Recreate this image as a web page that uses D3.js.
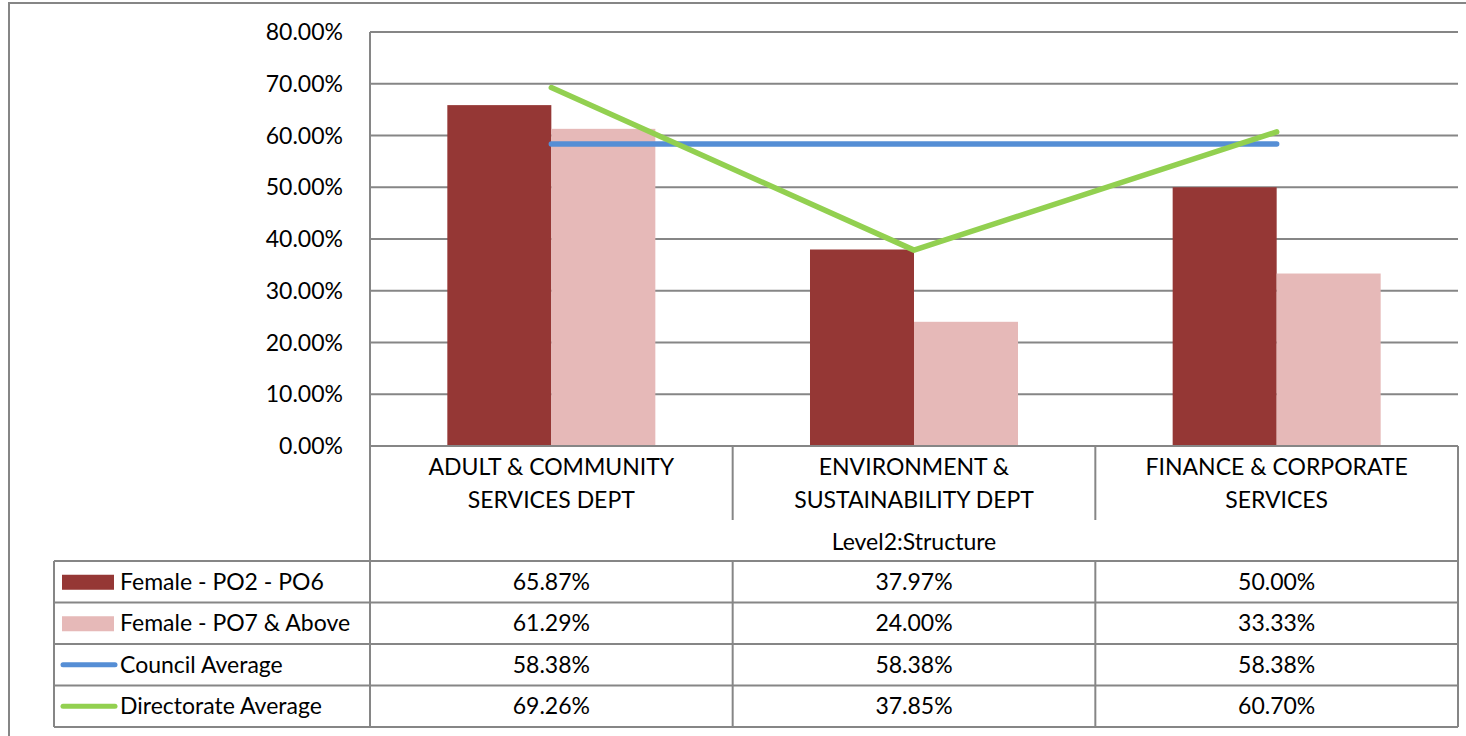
<!DOCTYPE html>
<html lang="en">
<head>
<meta charset="UTF-8">
<title>Female employees by directorate</title>
<style>
  body { margin: 0; background: #fff; }
  text { font-family: Lato, 'Open Sans', sans-serif; fill: #000; }
</style>
</head>
<body>
<svg id="svg" width="1466" height="736"></svg>

<script src="https://d3js.org/d3.v7.min.js"></script>
<script>
// data
const categories = ['ADULT & COMMUNITY SERVICES DEPT', 'ENVIRONMENT & SUSTAINABILITY DEPT', 'FINANCE & CORPORATE SERVICES']
const barSeries = ['Female - PO2 - PO6', 'Female - PO7 & Above']
const lineSeries = ['Council Average', 'Directorate Average']
const po2po6 = [0.6587, 0.3797, 0.5000]
const po7above = [0.6129, 0.2400, 0.3333]
const councilAvg = [0.5838, 0.5838, 0.5838]
const directorateAvg = [0.6926, 0.3785, 0.6070]
const yTicks = [0, 0.1, 0.2, 0.3, 0.4, 0.5, 0.6, 0.7, 0.8]
const axisTitle = 'Level2:Structure'

const colors = {
    'Female - PO2 - PO6': '#953735',
    'Female - PO7 & Above': '#e6b9b8',
    'Council Average': '#558ed5',
    'Directorate Average': '#92d050'
}
const grid = '#868686'
const fs = 23

const svg = d3.select('#svg')

// outer frame (runs off the right edge)
svg.append('rect')
    .attr('x', 9).attr('y', 3)
    .attr('width', 1480).attr('height', 760)
    .attr('fill', 'none').attr('stroke', grid).attr('stroke-width', 2)

const plotLeft = 370, plotRight = 1458, plotTop = 32, plotBase = 446

const yScale = d3.scaleLinear().domain([0, 0.8]).range([plotBase, plotTop])
const xScale = d3.scaleBand().domain(categories).range([plotLeft, plotRight])
const bw = xScale.bandwidth()
const subScale = d3.scaleBand().domain(barSeries).range([0, bw]).paddingOuter(0.7435)

// gridlines
svg.append('g').selectAll('line')
    .data(yTicks)
    .enter().append('line')
    .attr('x1', plotLeft).attr('x2', plotRight)
    .attr('y1', d => yScale(d)).attr('y2', d => yScale(d))
    .attr('stroke', grid).attr('stroke-width', 2)

// y axis labels
const fmt = d3.format('.2%')
svg.append('g').selectAll('text')
    .data(yTicks)
    .enter().append('text')
    .attr('x', 343)
    .attr('y', d => yScale(d) + 8)
    .attr('text-anchor', 'end')
    .style('font-size', fs + 'px')
    .text(d => fmt(d))

// bars
const barData = [po2po6, po7above]
barSeries.forEach((s, i) => {
    svg.append('g').selectAll('rect')
        .data(barData[i])
        .enter().append('rect')
        .attr('x', (d, j) => xScale(categories[j]) + subScale(s))
        .attr('y', d => yScale(d))
        .attr('width', subScale.bandwidth())
        .attr('height', d => plotBase - yScale(d))
        .attr('fill', colors[s])
})

// lines
const lineData = [councilAvg, directorateAvg]
const line = d3.line()
    .x((d, j) => xScale(categories[j]) + bw / 2)
    .y(d => yScale(d))
lineSeries.forEach((s, i) => {
    svg.append('path')
        .attr('d', line(lineData[i]))
        .attr('fill', 'none')
        .attr('stroke', colors[s])
        .attr('stroke-width', 5.5)
        .attr('stroke-linecap', 'round')
        .attr('stroke-linejoin', 'round')
})

// data table
const tbl = svg.append('g')
    .attr('stroke', grid).attr('stroke-width', 2)
const legLeft = 54
const catBottom = 520, titleBottom = 561
const rowH = (727 - titleBottom) / 4
const rowY = d3.range(5).map(i => titleBottom + i * rowH)

// x axis line and table borders
tbl.append('line').attr('x1', plotLeft).attr('x2', plotRight).attr('y1', plotBase).attr('y2', plotBase)
tbl.append('line').attr('x1', plotLeft).attr('x2', plotLeft).attr('y1', plotTop).attr('y2', 727)
tbl.append('line').attr('x1', plotRight).attr('x2', plotRight).attr('y1', plotBase).attr('y2', 727)
categories.slice(1).forEach(c => {
    tbl.append('line').attr('x1', xScale(c)).attr('x2', xScale(c)).attr('y1', plotBase).attr('y2', catBottom)
    tbl.append('line').attr('x1', xScale(c)).attr('x2', xScale(c)).attr('y1', titleBottom).attr('y2', 727)
})
rowY.forEach(y => {
    tbl.append('line').attr('x1', legLeft).attr('x2', plotRight).attr('y1', y).attr('y2', y)
})
tbl.append('line').attr('x1', legLeft).attr('x2', legLeft).attr('y1', titleBottom).attr('y2', 727)

// category labels (wrapped)
categories.forEach(c => {
    const t = svg.append('text')
        .attr('text-anchor', 'middle')
        .style('font-size', fs + 'px')
    const words = c.split(' ')
    const lines = []
    let cur = []
    words.forEach(w => {
        cur.push(w)
        t.text(cur.join(' '))
        if (t.node().getComputedTextLength() > 300 && cur.length > 1) {
            cur.pop()
            lines.push(cur.join(' '))
            cur = [w]
        }
    })
    lines.push(cur.join(' '))
    t.text(null)
    lines.forEach((l, k) => {
        t.append('tspan')
            .attr('x', xScale(c) + bw / 2)
            .attr('y', 475 + k * 33)
            .text(l)
    })
})

svg.append('text')
    .attr('x', (plotLeft + plotRight) / 2)
    .attr('y', 550)
    .attr('text-anchor', 'middle')
    .style('font-size', fs + 'px')
    .text(axisTitle)

// legend keys + values
const allSeries = barSeries.concat(lineSeries)
const allData = barData.concat(lineData)
allSeries.forEach((s, i) => {
    const cy = rowY[i] + rowH / 2
    if (i < 2) {
        svg.append('rect')
            .attr('x', 62).attr('y', cy - 7)
            .attr('width', 52).attr('height', 15)
            .attr('fill', colors[s])
    } else {
        svg.append('line')
            .attr('x1', 63).attr('x2', 115)
            .attr('y1', cy).attr('y2', cy)
            .attr('stroke', colors[s])
            .attr('stroke-width', 5)
            .attr('stroke-linecap', 'round')
    }
    svg.append('text')
        .attr('x', 120).attr('y', cy + 8)
        .style('font-size', fs + 'px')
        .text(s)
    allData[i].forEach((v, j) => {
        svg.append('text')
            .attr('x', xScale(categories[j]) + bw / 2)
            .attr('y', cy + 8)
            .attr('text-anchor', 'middle')
            .style('font-size', fs + 'px')
            .text(fmt(v))
    })
})
</script>
</body>
</html>
